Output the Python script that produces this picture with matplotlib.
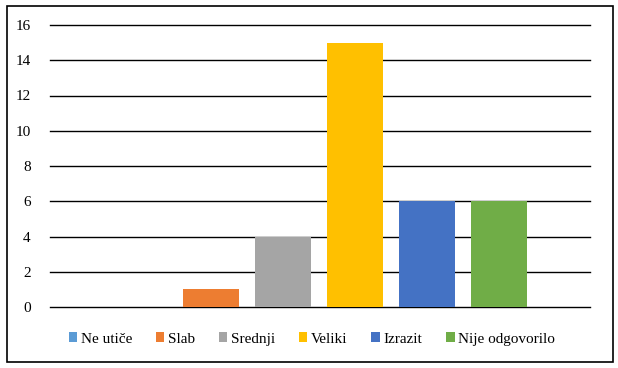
import matplotlib
matplotlib.use("Agg")
import matplotlib.pyplot as plt
from matplotlib.patches import Rectangle

categories = ["Ne utiče", "Slab", "Srednji", "Veliki", "Izrazit", "Nije odgovorilo"]
values = [0, 1, 4, 15, 6, 6]
colors = ["#5B9BD5", "#ED7D31", "#A5A5A5", "#FFC000", "#4472C4", "#70AD47"]
yticks = [0, 2, 4, 6, 8, 10, 12, 14, 16]

plt.rcParams['font.family'] = ['Liberation Serif', 'DejaVu Serif']

W, H = 618, 368
fig = plt.figure(figsize=(W/100, H/100), dpi=100)
ax = fig.add_axes([50/W, 1-307/H, 540/W, (307-25)/H])

width = 56/72
for i, (c, v, col) in enumerate(zip(categories, values, colors)):
    ax.bar(i, v, width=width, color=col, label=c, zorder=3)

ax.set_xlim(-89/72, (590-139)/72)
ax.set_ylim(0, 16)
ax.set_yticks(yticks)
ax.yaxis.grid(True, color='black', linewidth=1.0, zorder=0)
for gl in ax.get_ygridlines():
    gl.set_clip_on(False)
ax.set_axisbelow(True)
for s in ax.spines.values():
    s.set_visible(False)
ax.tick_params(axis='y', length=0, pad=14, labelsize=11)
ax.tick_params(axis='x', length=0, labelbottom=False)
ax.set_xticks([])

fig.legend(loc='center', bbox_to_anchor=(312/W, 1-339/H), ncol=6, frameon=False,
           fontsize=11, handlelength=0.55, handleheight=0.55, handletextpad=0.25,
           columnspacing=1.55)

fig.patches.append(Rectangle((7/W, 1-362/H), 606/W, 356/H, transform=fig.transFigure,
                             fill=False, edgecolor='black', linewidth=1.2))

fig.savefig("out.png", dpi=100)
